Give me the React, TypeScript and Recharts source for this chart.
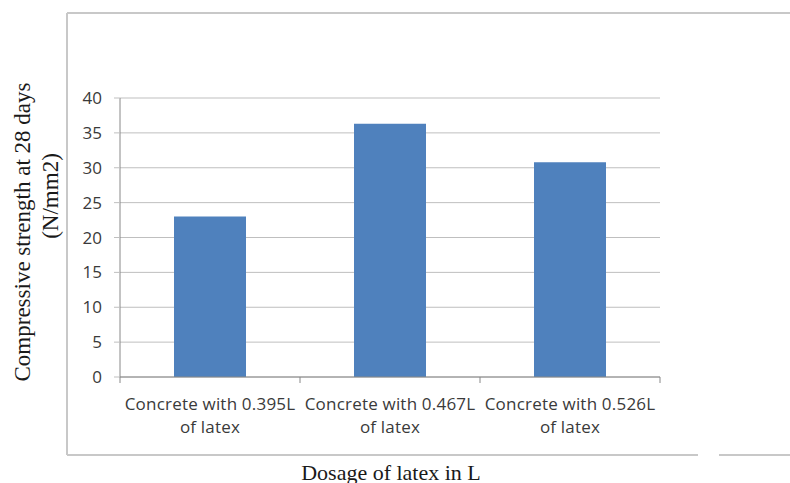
import { BarChart, Bar, XAxis, YAxis, CartesianGrid } from 'recharts'

const categories = ['Concrete with 0.395L', 'Concrete with 0.467L', 'Concrete with 0.526L']
const categorySub = ['of latex', 'of latex', 'of latex']
const strength = [23, 36.3, 30.8]
const yTicks = [0, 5, 10, 15, 20, 25, 30, 35, 40]

const data = categories.map((name, i) => ({ name, sub: categorySub[i], value: strength[i] }))

const W = 790
const H = 483
const plotLeft = 120
const plotRight = 660
const plotTop = 98
const plotBottom = 377
const band = (plotRight - plotLeft) / categories.length

const tickFont = '"Open Sans", sans-serif'
const serif = '"Liberation Serif", "Times New Roman", serif'

function CategoryTick(props: any) {
    const { x, y, payload, index } = props
    const sub = categorySub[index] ?? ''
    const last = index === categories.length - 1
    return (
        <g>
            <line x1={x - band / 2} x2={x - band / 2} y1={y} y2={y + 6} stroke="#888" />
            {last && <line x1={x + band / 2} x2={x + band / 2} y1={y} y2={y + 6} stroke="#888" />}
            <text x={x} y={y + 33} textAnchor="middle" fontSize={17} letterSpacing={0.2} fontFamily={tickFont} fill="#3a3a3a">
                {payload.value}
            </text>
            <text x={x} y={y + 56} textAnchor="middle" fontSize={17} letterSpacing={0.2} fontFamily={tickFont} fill="#3a3a3a">
                {sub}
            </text>
        </g>
    )
}

export default function App() {
    return (
        <div style={{ position: 'absolute', left: 0, top: 0, width: W, height: H, background: '#fff' }}>
            <svg width={W} height={H} style={{ position: 'absolute', left: 0, top: 0 }}>
                <line x1={67} x2={W} y1={13} y2={13} stroke="#c8c8c8" strokeWidth={2} />
                <line x1={67} x2={67} y1={13} y2={455} stroke="#c8c8c8" strokeWidth={2} />
                <line x1={67} x2={698} y1={455} y2={455} stroke="#c8c8c8" strokeWidth={2} />
                <line x1={719} x2={W} y1={455} y2={455} stroke="#c8c8c8" strokeWidth={2} />
                <text
                    x={22}
                    y={232}
                    transform="rotate(-90, 22, 232)"
                    textAnchor="middle"
                    dominantBaseline="central"
                    fontSize={23}
                    fontFamily={serif}
                    fill="#1a1a1a"
                >
                    Compressive strength at 28 days
                </text>
                <text
                    x={50}
                    y={196}
                    transform="rotate(-90, 50, 196)"
                    textAnchor="middle"
                    dominantBaseline="central"
                    fontSize={23}
                    fontFamily={serif}
                    fill="#1a1a1a"
                >
                    (N/mm2)
                </text>
                <text x={391} y={472} textAnchor="middle" dominantBaseline="central" fontSize={22} fontFamily={serif} fill="#1a1a1a">
                    Dosage of latex in L
                </text>
            </svg>
            <div style={{ position: 'absolute', left: 0, top: 0 }}>
                <BarChart
                    width={W}
                    height={H}
                    data={data}
                    margin={{ top: plotTop, right: W - plotRight, left: 0, bottom: 40 }}
                    barCategoryGap="30%"
                >
                    <CartesianGrid vertical={false} stroke="#bfbfbf" />
                    <XAxis
                        dataKey="name"
                        height={H - plotBottom - 40}
                        tickLine={false}
                        tickSize={0}
                        tickMargin={0}
                        axisLine={{ stroke: '#888' }}
                        tick={<CategoryTick />}
                        interval={0}
                    />
                    <YAxis
                        width={plotLeft}
                        domain={[0, 40]}
                        ticks={yTicks}
                        tickSize={6}
                        tickMargin={12}
                        tickLine={{ stroke: '#bfbfbf' }}
                        axisLine={{ stroke: '#888' }}
                        tick={{ fontSize: 17, fontFamily: tickFont, fill: '#3a3a3a' }}
                    />
                    <Bar dataKey="value" fill="#4f81bd" isAnimationActive={false} />
                </BarChart>
            </div>
        </div>
    )
}
